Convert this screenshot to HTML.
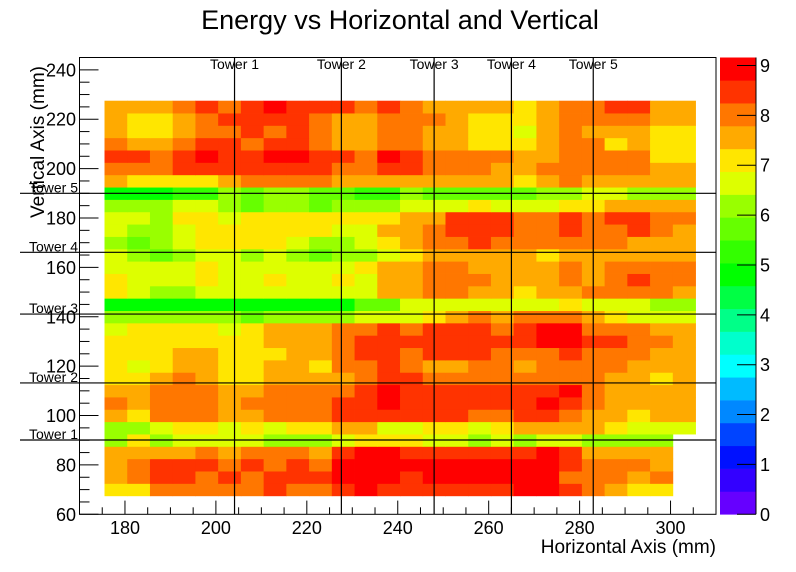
<!DOCTYPE html>
<html><head><meta charset="utf-8"><style>
html,body{margin:0;padding:0;background:#fff}
svg{display:block;font-family:"Liberation Sans",Arial,sans-serif}
</style></head><body>
<svg id="chart" width="796" height="572" viewBox="0 0 796 572" xmlns="http://www.w3.org/2000/svg">
<text x="400" y="29" font-size="27" text-anchor="middle">Energy vs Horizontal and Vertical</text>
<g id="cells"></g>
<g id="towers"></g>
<rect x="79.5" y="57.5" width="636.5" height="456.8" fill="none" stroke="#000" stroke-width="1"/>
<g id="axes"></g>
<g id="cbar"></g>
<text x="716" y="553" font-size="19" text-anchor="end">Horizontal Axis (mm)</text>
<text transform="translate(44,66) rotate(-90)" font-size="19" text-anchor="end">Vertical Axis (mm)</text>
</svg>
<script>
const xStart = 175.5, binW = 5;
const yStart = 67.5, binH = 5;
const towerX = [204.1, 227.6, 248.0, 265.0, 283.0];
const towerY = [90.1, 113.2, 141.1, 166.1, 190.0];
const towerNames = ["Tower 1","Tower 2","Tower 3","Tower 4","Tower 5"];
const xTicks = [180,200,220,240,260,280,300];
const yTicks = [60,80,100,120,140,160,180,200,220,240];
const zTicks = [0,1,2,3,4,5,6,7,8,9];
const paletteColors = ["#6600ff","#3300ff","#0011ff","#0044ff","#0088ff","#00bbff","#00ffff","#00ffcc","#00ff88","#00ff44","#00ff00","#33ff00","#66ff00","#99ff00","#ddff00","#ffe600","#ffaa00","#ff7700","#ff3300","#ff0000"];
// energy values, row 0 = bottom
const row0 =[7.1,7.1,8.0,8.0,8.0,8.0,8.0,8.5,8.0,8.0,8.5,9.0,8.5,8.5,8.5,8.5,8.5,8.5,9.0,9.0,8.5,8.0,7.5,7.1,7.1,null];
const row1 =[7.5,8.0,8.5,8.5,8.0,8.5,8.0,8.5,8.5,8.5,9.0,9.0,9.0,8.5,9.0,9.0,9.0,9.0,9.0,9.0,8.0,8.0,8.0,7.5,8.0,null];
const row2 =[7.5,8.0,8.5,8.5,8.5,8.0,8.5,8.0,8.5,8.0,9.0,9.0,9.0,9.0,9.0,9.0,9.0,9.0,9.0,9.0,8.5,8.0,8.0,8.0,7.5,null];
const row3 =[7.5,7.5,7.5,7.5,8.0,7.5,8.0,8.0,8.0,7.5,8.5,9.0,9.0,8.5,8.5,8.5,8.5,8.5,8.5,9.0,8.5,7.5,7.5,7.5,7.5,null];
const row4 =[6.2,7.1,6.2,6.6,6.6,6.6,6.6,6.2,6.2,6.2,6.6,7.1,7.1,7.1,6.6,6.6,6.2,6.6,6.2,6.6,6.6,6.2,6.2,6.2,6.2,null];
const row5 =[6.2,6.2,6.6,7.1,7.1,6.6,7.1,6.6,7.1,7.1,7.5,7.5,6.6,6.6,7.1,7.1,6.6,7.1,7.5,7.5,7.5,7.5,7.1,6.6,6.6,6.6];
const row6 =[7.5,7.1,8.0,8.0,8.0,7.5,7.5,8.0,8.0,8.0,8.5,8.5,8.5,8.5,8.5,8.5,8.0,8.0,8.5,8.5,8.0,7.5,7.5,7.1,7.5,7.5];
const row7 =[8.0,7.5,8.0,8.0,8.0,7.5,8.0,8.0,8.0,8.0,8.5,8.5,9.0,8.5,8.5,8.5,8.5,8.5,8.5,9.0,8.5,8.0,7.5,7.5,7.5,7.5];
const row8 =[7.5,7.5,8.0,8.0,8.0,7.5,7.5,8.0,8.0,8.0,8.0,8.5,9.0,8.5,8.5,8.5,8.5,8.5,8.5,8.5,9.0,8.0,7.5,7.5,7.5,7.5];
const row9 =[7.1,7.1,7.5,8.0,7.5,7.1,7.1,7.5,7.5,7.5,7.5,8.0,8.5,8.5,8.0,8.0,8.0,8.0,8.0,8.0,8.0,8.0,7.5,7.5,7.1,7.5];
const row10=[7.1,6.6,7.1,7.5,7.5,7.1,7.1,7.5,7.5,7.1,8.0,8.0,8.5,8.0,7.5,7.5,8.0,8.0,7.5,8.0,8.0,8.0,8.0,7.5,7.5,7.5];
const row11=[7.1,7.1,7.1,7.5,7.5,7.1,7.1,7.1,7.5,7.5,8.0,8.5,8.5,8.0,8.5,8.5,8.5,8.0,8.0,8.0,8.5,8.0,8.0,8.0,7.5,7.5];
const row12=[7.1,7.1,7.1,7.1,7.1,7.1,7.1,7.5,7.5,7.5,8.0,8.5,8.5,8.5,8.5,8.5,8.5,8.5,8.5,9.0,9.0,8.5,8.5,8.0,8.0,7.5];
const row13=[6.6,7.1,7.1,7.1,7.1,6.6,7.1,7.5,7.5,7.5,8.0,8.0,8.5,8.0,8.5,8.5,8.5,8.0,8.5,9.0,9.0,8.0,8.0,8.0,7.5,7.5];
const row14=[6.2,6.2,6.2,6.2,6.2,6.2,5.7,6.2,6.2,6.2,6.2,6.6,6.6,6.6,7.1,7.5,8.0,7.5,8.0,8.0,8.0,7.5,7.1,6.6,6.6,6.6];
const row15=[4.8,4.8,4.8,4.8,4.8,4.8,4.8,4.8,4.8,4.8,4.8,5.7,5.7,6.6,6.6,6.6,6.6,6.6,6.6,6.6,7.1,6.6,6.6,6.6,6.2,6.2];
const row16=[7.1,6.6,6.2,6.2,6.6,6.6,6.6,6.6,6.6,6.6,6.6,6.6,7.5,7.5,8.0,8.0,7.5,7.5,7.1,7.5,7.5,8.0,8.0,8.0,8.0,7.5];
const row17=[7.1,6.6,6.6,6.6,7.1,6.6,6.6,7.1,6.6,6.6,7.1,6.6,7.5,7.5,8.0,8.0,8.0,7.5,7.5,7.5,8.0,7.5,8.0,8.5,8.0,8.0];
const row18=[6.6,6.6,6.6,6.6,7.1,6.6,6.6,6.6,6.6,6.6,6.6,7.1,7.5,7.5,8.0,8.0,7.5,7.5,7.5,7.5,8.0,7.5,8.0,8.0,8.0,8.0];
const row19=[6.6,6.2,5.7,6.2,6.6,6.6,6.2,6.6,6.2,5.7,6.2,6.2,6.6,7.1,7.5,7.5,7.5,7.5,7.5,7.1,7.5,7.5,7.5,7.5,7.5,7.5];
const row20=[6.2,5.7,6.2,6.6,7.1,7.1,7.1,7.1,6.6,6.2,6.2,6.6,7.1,7.5,8.0,8.0,8.5,8.0,8.0,8.0,8.0,8.0,8.0,7.5,7.5,7.5];
const row21=[6.6,6.2,6.2,6.6,7.1,7.1,7.1,7.1,7.1,7.1,6.6,6.6,7.5,7.5,8.0,8.5,8.5,8.5,8.0,8.0,8.5,8.0,8.0,8.5,8.0,7.5];
const row22=[6.6,6.6,6.2,7.1,7.1,6.6,7.1,7.1,7.1,7.1,7.1,7.1,7.1,7.5,7.5,8.5,8.5,8.5,8.0,8.0,8.5,8.0,8.5,8.5,8.0,8.0];
const row23=[6.2,6.2,6.2,6.6,6.6,6.2,5.7,6.2,6.2,5.7,6.2,6.2,6.2,6.6,6.6,6.6,7.1,6.6,6.6,6.6,7.1,7.1,7.5,7.5,7.5,7.5];
const row24=[4.8,4.8,4.8,5.2,5.2,6.2,5.7,6.2,6.2,5.7,5.7,5.2,5.2,6.2,5.7,5.7,5.7,5.7,5.7,6.2,6.2,6.6,6.6,6.2,6.2,6.2];
const row25=[7.5,7.1,7.1,7.1,7.1,7.5,8.0,8.0,8.0,8.0,7.5,7.5,7.5,7.5,7.5,7.5,7.5,7.5,7.1,7.5,8.0,7.5,7.5,7.5,7.5,7.5];
const row26=[8.0,8.0,8.0,8.5,8.5,8.5,8.5,8.5,8.5,8.5,8.0,8.0,8.5,8.5,8.0,8.0,8.0,7.5,7.5,8.0,8.0,8.0,8.0,8.0,7.5,7.5];
const row27=[8.5,8.5,8.0,8.5,9.0,8.5,8.5,9.0,9.0,8.5,8.5,8.0,9.0,8.5,8.0,8.0,8.0,8.0,7.5,7.5,8.0,8.0,8.0,8.0,7.1,7.1];
const row28=[8.0,7.5,7.5,8.0,8.5,8.5,8.0,8.5,8.5,8.0,7.5,7.5,8.0,8.0,7.5,7.5,7.1,7.1,7.1,7.5,8.0,8.0,7.1,7.5,7.1,7.1];
const row29=[7.5,7.1,7.1,7.5,8.0,8.0,8.5,8.0,8.5,8.0,7.5,7.5,8.0,8.0,7.5,7.5,7.1,7.1,6.6,7.5,8.0,7.5,7.5,7.5,7.1,7.1];
const row30=[7.5,7.1,7.1,7.5,8.0,8.5,8.5,8.5,8.5,8.0,7.5,7.5,8.0,8.0,8.0,7.5,7.1,7.1,7.1,7.5,8.0,8.0,8.0,8.0,7.5,7.5];
const row31=[7.5,7.5,7.5,8.0,8.5,8.0,8.5,9.0,8.5,8.5,8.5,8.0,8.5,8.0,7.5,7.5,7.5,7.5,7.1,7.5,8.0,8.0,8.5,8.5,7.5,7.5];
const rows=[row0,row1,row2,row3,row4,row5,row6,row7,row8,row9,row10,row11,row12,row13,row14,row15,row16,row17,row18,row19,row20,row21,row22,row23,row24,row25,row26,row27,row28,row29,row30,row31];

const NS="http://www.w3.org/2000/svg";
const X0=79.5,X1=716,Y0=514.3,Y1=57.5;
const xMin=170,xMax=310,yMin=60,yMax=245,zMin=0,zMax=9.16;
const sx=v=>X0+(v-xMin)/(xMax-xMin)*(X1-X0);
const sy=v=>Y0-(v-yMin)/(yMax-yMin)*(Y0-Y1);
const cbTop=57.5,cbBot=514.3,cbL=720,cbR=756;
const sz=v=>cbBot-(v-zMin)/(zMax-zMin)*(cbBot-cbTop);
function mk(tag,attrs,parent){const e=document.createElementNS(NS,tag);for(const k in attrs)e.setAttribute(k,attrs[k]);parent.appendChild(e);return e;}
function colorFor(v){let k=Math.floor((v-zMin)/(zMax-zMin)*paletteColors.length);k=Math.max(0,Math.min(paletteColors.length-1,k));return paletteColors[k];}

const gc=document.getElementById('cells');
rows.forEach((r,j)=>{r.forEach((v,i)=>{if(v===null)return;
  const xa=sx(xStart+i*binW),xb=sx(xStart+(i+1)*binW),ya=sy(yStart+(j+1)*binH),yb=sy(yStart+j*binH);
  const c=mk('rect',{x:xa.toFixed(2),y:ya.toFixed(2),width:(xb-xa+0.4).toFixed(2),height:(yb-ya+0.4).toFixed(2),fill:colorFor(v)},gc);
  
  
});});

const gt=document.getElementById('towers');
towerX.forEach((t,i)=>{
  const l=mk('line',{x1:sx(t),x2:sx(t),y1:Y1,y2:Y0,stroke:'#000','stroke-width':1.2},gt);
  
  
  const tx=mk('text',{x:sx(t),y:69,'font-size':14,'text-anchor':'middle'},gt);tx.textContent=towerNames[i];
  
  
});
towerY.forEach((t,i)=>{
  const l=mk('line',{x1:20,x2:X1,y1:sy(t),y2:sy(t),stroke:'#000','stroke-width':1.2},gt);
  
  
  const tx=mk('text',{x:78,y:sy(t)-1,'font-size':14,'text-anchor':'end'},gt);tx.textContent=towerNames[i];
  
  
});

const ga=document.getElementById('axes');
for(let v=170;v<=310;v+=5){const maj=v%20===0;
  const t=mk('line',{x1:sx(v),x2:sx(v),y1:Y0,y2:Y0-(maj?13.7:7),stroke:'#000'},ga);
  
  }
xTicks.forEach(v=>{const t=mk('text',{x:sx(v),y:534,'font-size':18,'text-anchor':'middle'},ga);t.textContent=v;
  
  });
for(let v=60;v<=245;v+=5){const maj=v%20===0;
  const t=mk('line',{x1:X0,x2:X0+(maj?19:10),y1:sy(v),y2:sy(v),stroke:'#000'},ga);
  
  }
yTicks.forEach(v=>{const t=mk('text',{x:76,y:sy(v)+6.5,'font-size':18,'text-anchor':'end'},ga);t.textContent=v;
  
  });

const gb=document.getElementById('cbar');
paletteColors.forEach((c,k)=>{const a=zMin+k*(zMax-zMin)/paletteColors.length,b=zMin+(k+1)*(zMax-zMin)/paletteColors.length;
  const r=mk('rect',{x:cbL,y:sz(b),width:cbR-cbL,height:sz(a)-sz(b)+0.3,fill:c},gb);
  
  });
mk('line',{x1:cbR,x2:cbR,y1:cbTop,y2:cbBot,stroke:'#000'},gb);
zTicks.forEach(v=>{const l=mk('line',{x1:cbR-19,x2:cbR,y1:sz(v),y2:sz(v),stroke:'#000'},gb);
  
  
  const t=mk('text',{x:760,y:sz(v)+6.5,'font-size':18},gb);t.textContent=v;
  
  });
</script>
</body></html>
